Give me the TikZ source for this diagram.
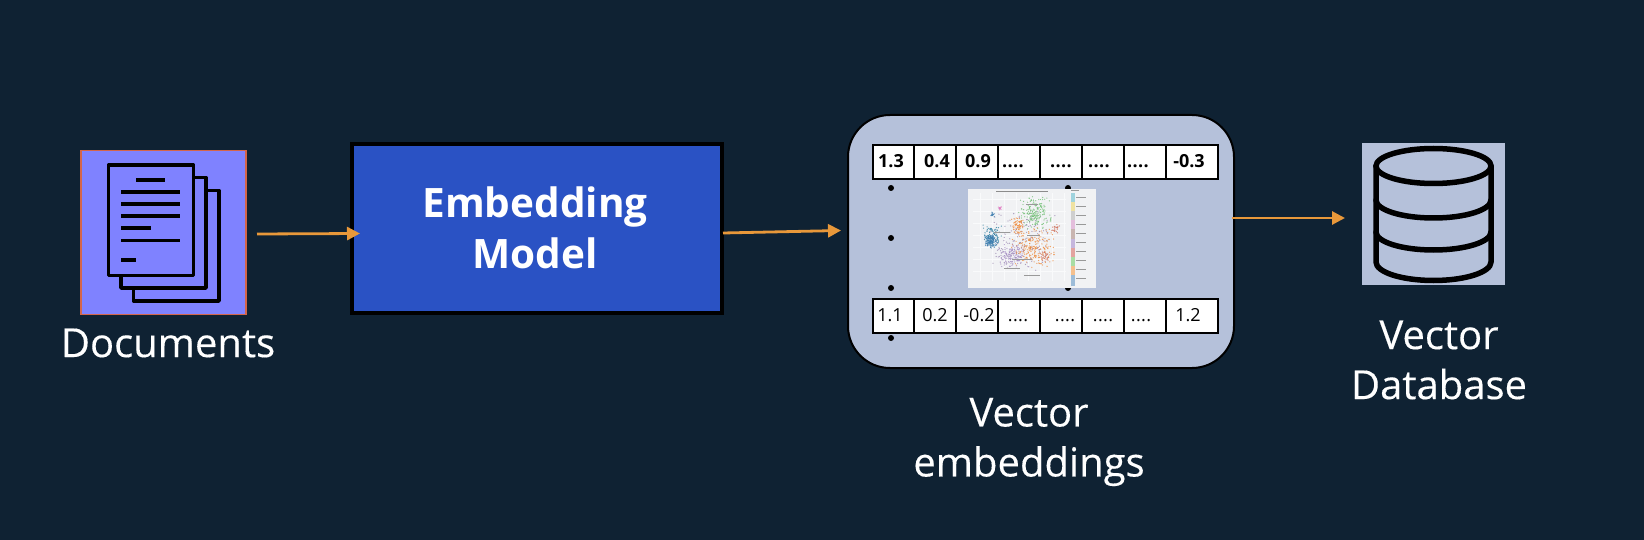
\documentclass[tikz,border=0pt]{standalone}
\usepackage{fontspec}
\setmainfont{Open Sans}
\newfontfamily\labelfont[FakeBold=0.25]{Open Sans}
\usetikzlibrary{arrows.meta}
\definecolor{bgc}{HTML}{0F2233}
\definecolor{orangec}{HTML}{E8983A}
\definecolor{docc}{HTML}{7F82FF}
\definecolor{docb}{HTML}{D4654A}
\definecolor{modelc}{HTML}{2A52C4}
\definecolor{lightc}{HTML}{B5C1DA}
\definecolor{plotc}{HTML}{F1F2F4}
\definecolor{c1}{HTML}{3F7FB0}
\definecolor{c2}{HTML}{6FBF73}
\definecolor{c3}{HTML}{EE8A3C}
\definecolor{c4}{HTML}{A58CC4}
\definecolor{c5}{HTML}{E377C2}
\definecolor{c6}{HTML}{D0705A}
\newcommand{\fourdots}{.\kern0.4pt.\kern0.4pt.\kern0.4pt.}
\newcommand{\scat}[6]{% cx cy sx sy colour n
  \foreach \i in {1,...,#6}{
    \pgfmathsetmacro{\px}{#1+#3*(rand+rand)/2}
    \pgfmathsetmacro{\py}{#2+#4*(rand+rand)/2}
    \fill[#5,opacity=.8] (\px,\py) circle (.65);
  }}
\tikzset{
  x=1pt,y=-1pt,
  label text/.style={text=white,font=\labelfont\fontsize{40}{50}\selectfont,align=center,inner sep=0},
  page/.style={draw=black,fill=docc,line width=3.4pt,line join=round},
  textline/.style={draw=black,line width=3.4pt},
  flow/.style={draw=orangec,line width=2.8pt,-{Triangle[length=13pt,width=13pt]}},
  cell/.style={draw=black,fill=white,line width=2pt,minimum height=34pt,inner sep=0,anchor=north west},
  numb/.style={font=\bfseries\fontsize{18}{20}\selectfont,inner sep=0,text=black,anchor=base},
  numr/.style={font=\fontsize{18}{20}\selectfont,inner sep=0,text=black,anchor=base},
  vdot/.style={circle,fill=black,inner sep=0,minimum size=6pt},
  dbline/.style={draw=black,line width=5.5pt,line cap=round},
  tiny/.style={draw=black!40,line width=.5pt}
}
\begin{document}
\begin{tikzpicture}
\useasboundingbox (0,0) rectangle (1644,540);
\fill[bgc] (0,0) rectangle (1644,540);

% Documents icon
\node[draw=docb,fill=docc,line width=1.6pt,minimum width=165pt,minimum height=164pt,inner sep=0] (docs) at (163.5,232.5) {};
\draw[page] (133.5,190.5) rectangle (219,301);
\draw[page] (121,177.5) rectangle (206,288);
\draw[page] (108.5,165) rectangle (193.5,275.5);
\draw[textline] (136,180) -- (165,180);
\draw[textline] (121,192) -- (180,192);
\draw[textline] (121,204) -- (180,204);
\draw[textline] (121,216) -- (180,216);
\draw[textline] (121,228) -- (151,228);
\draw[textline] (121,240.5) -- (180,240.5);
\draw[textline] (121,260) -- (136,260);
\node[label text] (doclabel) at (168,343) {Documents};

% Embedding model
\node[draw=black,fill=modelc,line width=3.6pt,minimum width=370pt,minimum height=169pt,inner sep=0] (model) at (537,228.5) {};
\node[text=white,font=\bfseries\fontsize{40.5}{50.5}\selectfont,align=center,inner sep=0] (modeltext) at (535,228) {Embedding\\Model};

% Vector embeddings panel
\node[draw=black,fill=lightc,line width=2pt,rounded corners=42pt,minimum width=386pt,minimum height=253pt,inner sep=0] (panel) at (1041,241.5) {};

% Tables
\foreach \nm/\a/\b in {1/872/913,2/913/955,3/955/997,4/997/1039,5/1039/1081,6/1081/1123,7/1123/1165,8/1165/1217}{
  \pgfmathsetmacro{\w}{\b-\a}
  \node[cell,minimum width=\w pt] (top\nm) at (\a,144) {};
  \node[cell,minimum width=\w pt] (bot\nm) at (\a,298) {};
}
\foreach \nm/\cx/\vtxt in {a/891/1.3,b/937/0.4,c/978/0.9,d/1013/\fourdots,e/1061/\fourdots,f/1099/\fourdots,g/1138/\fourdots,h/1189/-0.3}{
  \node[numb] (tv\nm) at (\cx,167.5) {\vtxt};
}
\foreach \nm/\cx/\vtxt in {a/890/1.1,b/935/0.2,c/979/-0.2,d/1018/\fourdots,e/1065/\fourdots,f/1103/\fourdots,g/1141/\fourdots,h/1188/1.2}{
  \node[numr] (bv\nm) at (\cx,321.5) {\vtxt};
}

% Dots
\foreach \nm/\cy in {1/188,2/238,3/288,4/338}{
  \node[vdot] (dl\nm) at (891,\cy) {};
}
\node[vdot] (dr1) at (1068,188) {};
\node[vdot] (dr2) at (1068,288) {};

% Scatter picture
\fill[plotc] (968,189) rectangle (1096,288);
\foreach \gx in {980,992,1004,1016,1028,1040,1052,1064}{\draw[white!60!plotc,line width=.4pt] (\gx,193) -- (\gx,281);}
\foreach \gy in {199,211,223,235,247,259,271}{\draw[white!60!plotc,line width=.4pt] (973,\gy) -- (1066,\gy);}
\draw[draw=black!45,line width=.7pt] (996,191) -- (1048,191);
\pgfmathsetseed{4217}
\scat{1020}{240}{36}{38}{c4!70!gray}{150}
\scat{1035}{212}{18}{18}{c2}{190}
\scat{1034}{248}{24}{22}{c3}{210}
\scat{1018}{226}{7}{9}{c3}{75}
\scat{1056}{229}{5}{5}{c6}{22}
\scat{1045}{256}{7}{8}{c6}{35}
\scat{1012}{256}{16}{14}{c4}{150}
\scat{992}{235}{11}{11}{c1!70!teal}{90}
\scat{991}{241}{7}{7}{c1}{150}
\scat{992}{215}{2.5}{3}{c1}{16}
\scat{1000}{208}{2}{3}{c5}{12}
\foreach \a/\b/\ly in {994/1010/232,1027/1040/235,1012/1032/259,1004/1020/268,1024/1040/275,1026/1038/204}{\draw[tiny] (\a,\ly) -- (\b,\ly);}
\foreach \ly in {197,206,215,224,233,242,251,260,269,278}{\draw[tiny] (1076,\ly) -- (1086,\ly);}
\draw[tiny] (1071,190.5) -- (1079,190.5);
\foreach \sc/\ya/\yb in {9FD3DE/193/202,EFE2A2/202/211,CFCFCF/211/220,E4BEDC/220/229,C9B5B0/229/239,C5B6DD/239/248,E3A3A0/248/257,A8DDA4/257/266,F5C08E/266/275,9DBCD8/275/286}{
  \definecolor{tmpc}{HTML}{\sc}
  \fill[tmpc] (1071,\ya) rectangle (1074.5,\yb);
}
\node[label text] (veclabel) at (1029,442) {Vector\\embeddings};

% Database icon
\node[fill=lightc,minimum width=143pt,minimum height=142pt,inner sep=0] (dbbox) at (1433.5,214) {};
\draw[dbline] (1376,166) -- (1376,262) arc[start angle=180,end angle=360,x radius=57.5,y radius=-18.5] -- (1491,166);
\draw[dbline] (1433.5,166) ellipse[x radius=57.5,y radius=17.5];
\draw[dbline] (1376,200) arc[start angle=180,end angle=360,x radius=57.5,y radius=-18];
\draw[dbline] (1376,232) arc[start angle=180,end angle=360,x radius=57.5,y radius=-18];
\node[label text] (dblabel) at (1439,360) {Vector\\Database};

% Connectors
\coordinate (a1s) at (257,234);
\coordinate (a1e) at (360,233.5);
\coordinate (a2s) at (723,233);
\coordinate (a2e) at (841,230.5);
\coordinate (a3s) at (1232,218);
\coordinate (a3e) at (1345,218);
\draw[flow] (a1s) -- (a1e);
\draw[flow] (a2s) -- (a2e);
\draw[flow] (a3s) -- (a3e);
\end{tikzpicture}
\end{document}
